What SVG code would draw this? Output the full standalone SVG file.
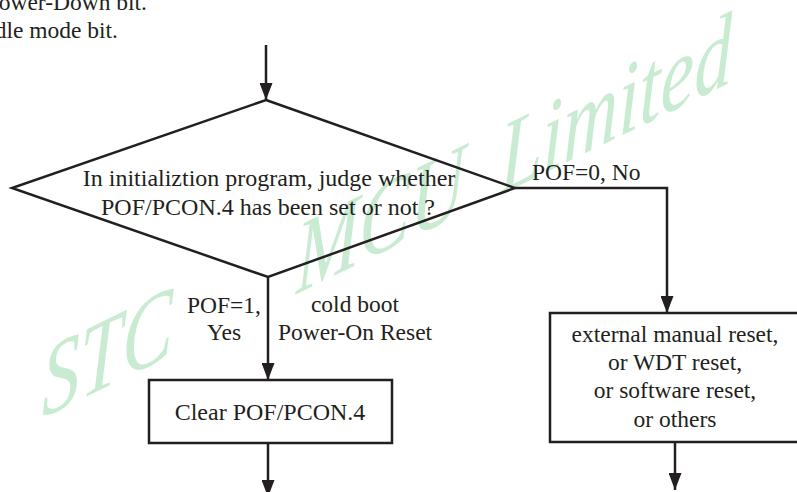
<svg xmlns="http://www.w3.org/2000/svg" width="797" height="492" viewBox="0 0 797 492">
<style>
text{font-family:"Liberation Serif","Times New Roman",serif;font-size:23.5px;fill:#231f20}
.c{text-anchor:middle}
.e{text-anchor:end}
.big{font-size:24px}
.wm{font-style:italic;font-size:76px;fill:#c8ebd2}
.ln{fill:none;stroke:#231f20;stroke-width:2.5}
.sh{fill:#fff;stroke:#231f20;stroke-width:2.5}
</style>
<defs>
<marker id="ah" markerUnits="userSpaceOnUse" markerWidth="17" markerHeight="13" refX="17" refY="6.5" orient="auto">
<path d="M0,0 L17,6.5 L0,13 z" fill="#231f20"/>
</marker>
</defs>
<rect width="797" height="492" fill="#fff"/>
<g id="watermark" transform="matrix(1,-0.488,0,1.35,0,4)">
<text class="wm"><tspan x="42" y="322">STC</tspan><tspan x="296" y="322">MCU</tspan><tspan x="500" y="322">Limited</tspan></text>
</g>
<g id="header">
<text class="e" x="147" y="10">ower-Down bit.</text>
<text class="e" x="118" y="38">dle mode bit.</text>
</g>
<g id="connectors">
<path class="ln" d="M266,45 V100" marker-end="url(#ah)"/>
<path class="ln" d="M268,277 V380" marker-end="url(#ah)"/>
<path class="ln" d="M515,188 H667 V313" marker-end="url(#ah)"/>
<path class="ln" d="M268,443 V497" marker-end="url(#ah)"/>
<path class="ln" d="M675,442 V490" marker-end="url(#ah)"/>
<text class="c" x="224" y="313">POF=1,</text>
<text class="c" x="224" y="340">Yes</text>
<text class="c" x="355" y="312">cold boot</text>
<text class="c" x="355" y="340">Power-On Reset</text>
<text x="532" y="180">POF=0, No</text>
</g>
<g id="decision">
<path class="ln" d="M266,100 L515,188 L268,277 L12,188 Z"/>
<text class="c big" x="269" y="186">In initializtion program, judge whether</text>
<text class="c big" x="268" y="215">POF/PCON.4 has been set or not ?</text>
</g>
<g id="clear">
<rect class="sh" x="149" y="380" width="243" height="63"/>
<text class="c big" x="270" y="420">Clear POF/PCON.4</text>
</g>
<g id="other-reset">
<rect class="sh" x="550" y="313" width="252" height="129"/>
<text class="c" x="675" y="342">external manual reset,</text>
<text class="c" x="675" y="370">or WDT reset,</text>
<text class="c" x="675" y="398">or software reset,</text>
<text class="c" x="675" y="427">or others</text>
</g>
</svg>
